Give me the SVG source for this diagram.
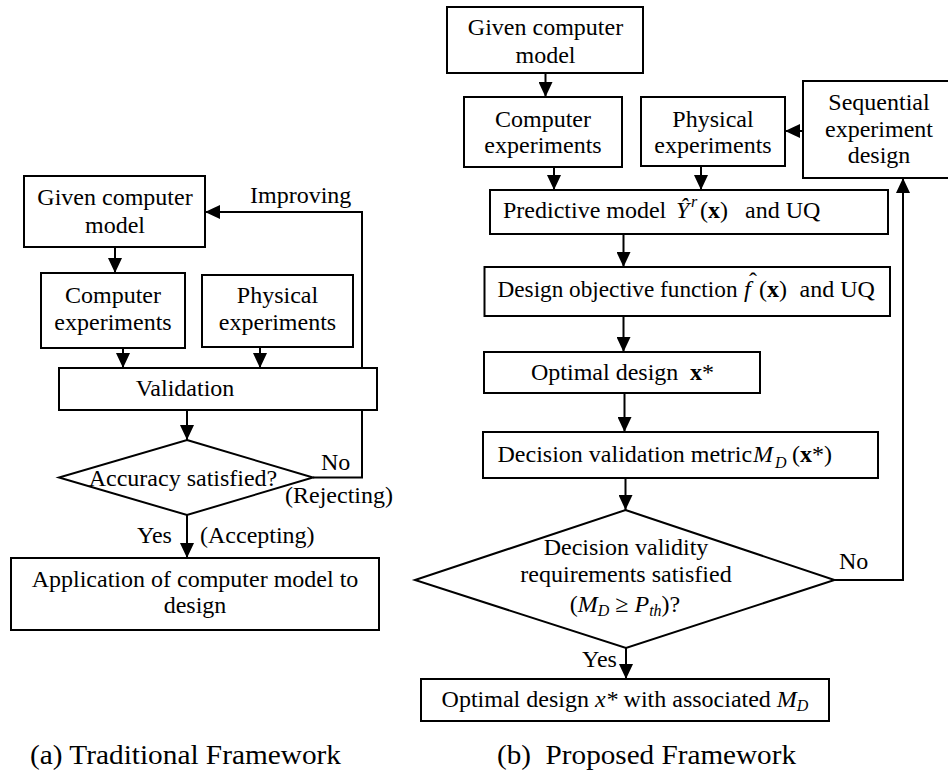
<svg xmlns="http://www.w3.org/2000/svg" width="948" height="773" viewBox="0 0 948 773">
<style>
text{font-family:"Liberation Serif","Times New Roman",serif;font-size:24px;fill:#000}
.c{text-anchor:middle}
.box{fill:#fff;stroke:#000;stroke-width:2}
.ln{fill:none;stroke:#000;stroke-width:2}
.i{font-style:italic}
.b{font-weight:bold}
.s{font-size:16px}
</style>
<defs>
<marker id="ah" markerUnits="userSpaceOnUse" markerWidth="15" markerHeight="14" refX="15" refY="7" orient="auto">
<path d="M0,0 L15,7 L0,14 z" fill="#000"/>
</marker>
</defs>
<rect width="948" height="773" fill="#fff"/>

<!-- connectors -->
<g id="connectors" class="ln">
<!-- left -->
<line x1="115" y1="247" x2="115" y2="273" marker-end="url(#ah)"/>
<line x1="123" y1="348" x2="123" y2="368" marker-end="url(#ah)"/>
<line x1="260" y1="347" x2="260" y2="368" marker-end="url(#ah)"/>
<line x1="187" y1="410" x2="187" y2="440" marker-end="url(#ah)"/>
<polyline points="313,477.5 362,477.5 362,212 205,212" marker-end="url(#ah)"/>
<line x1="187" y1="515" x2="187" y2="558" marker-end="url(#ah)"/>
<!-- right -->
<line x1="545.5" y1="73" x2="545.5" y2="97" marker-end="url(#ah)"/>
<line x1="803" y1="131" x2="785" y2="131" marker-end="url(#ah)"/>
<line x1="554" y1="167" x2="554" y2="190" marker-end="url(#ah)"/>
<line x1="701" y1="166" x2="701" y2="190" marker-end="url(#ah)"/>
<line x1="623.5" y1="234" x2="623.5" y2="267" marker-end="url(#ah)"/>
<line x1="623.5" y1="316" x2="623.5" y2="352" marker-end="url(#ah)"/>
<line x1="624.5" y1="393" x2="624.5" y2="432" marker-end="url(#ah)"/>
<line x1="625.5" y1="478" x2="625.5" y2="510" marker-end="url(#ah)"/>
<polyline points="834.5,580 903,580 903,178" marker-end="url(#ah)"/>
<line x1="626" y1="648" x2="626" y2="679" marker-end="url(#ah)"/>
</g>

<!-- left labels -->
<g id="labels-left">
<text x="250" y="203">Improving</text>
<text x="321" y="470">No</text>
<text x="285" y="503">(Rejecting)</text>
<text x="137" y="543">Yes</text>
<text x="200" y="543">(Accepting)</text>
</g>

<!-- left nodes -->
<g id="a-given">
<rect class="box" x="24" y="176" width="181" height="71"/>
<text class="c" x="115" y="205">Given computer</text>
<text class="c" x="115" y="233">model</text>
</g>
<g id="a-computer">
<rect class="box" x="41" y="273" width="144" height="75"/>
<text class="c" x="113" y="303">Computer</text>
<text class="c" x="113" y="330">experiments</text>
</g>
<g id="a-physical">
<rect class="box" x="202" y="275" width="151" height="72"/>
<text class="c" x="277.5" y="303">Physical</text>
<text class="c" x="277.5" y="330">experiments</text>
</g>
<g id="a-validation">
<rect class="box" x="59" y="368" width="318" height="42"/>
<text class="c" x="185" y="396">Validation</text>
</g>
<g id="a-accuracy">
<polygon class="box" points="187,440 313,477.5 187,515 59,477.5"/>
<text class="c" x="183" y="486">Accuracy satisfied?</text>
</g>
<g id="a-application">
<rect class="box" x="11" y="558" width="368" height="72"/>
<text class="c" x="195" y="587">Application of computer model to</text>
<text class="c" x="195" y="613">design</text>
</g>

<!-- right nodes -->
<g id="b-given">
<rect class="box" x="447" y="7" width="196" height="66"/>
<text class="c" x="545.5" y="35">Given computer</text>
<text class="c" x="545.5" y="63">model</text>
</g>
<g id="b-computer">
<rect class="box" x="464" y="97" width="158" height="70"/>
<text class="c" x="543" y="127">Computer</text>
<text class="c" x="543" y="153">experiments</text>
</g>
<g id="b-physical">
<rect class="box" x="641" y="97" width="144" height="69"/>
<text class="c" x="713" y="127">Physical</text>
<text class="c" x="713" y="153">experiments</text>
</g>
<g id="b-sequential">
<rect class="box" x="803" y="81" width="152" height="97"/>
<text class="c" x="879" y="110">Sequential</text>
<text class="c" x="879" y="137">experiment</text>
<text class="c" x="879" y="163">design</text>
</g>
<g id="b-predictive">
<rect class="box" x="490" y="190" width="398" height="44"/>
<text x="503" y="218">Predictive model</text>
<text class="i" x="676" y="218">Ŷ</text>
<text class="i s" x="691" y="207">r</text>
<text x="700" y="218">(<tspan class="b">x</tspan>)</text>
<text x="745" y="218">and UQ</text>
</g>
<g id="b-objective">
<rect class="box" x="484.5" y="267" width="405.5" height="49"/>
<text x="497.5" y="297" textLength="240" lengthAdjust="spacingAndGlyphs">Design objective function</text>
<text class="i" x="744" y="297">f</text>
<text class="c" x="753" y="289">ˆ</text>
<text x="759" y="297">(<tspan class="b">x</tspan>)</text>
<text x="799.5" y="297">and UQ</text>
</g>
<g id="b-optimal">
<rect class="box" x="484" y="352" width="276" height="41"/>
<text x="531" y="380">Optimal design</text>
<text x="690" y="380"><tspan class="b">x</tspan>*</text>
</g>
<g id="b-metric">
<rect class="box" x="483" y="432" width="395" height="46"/>
<text x="497.5" y="462">Decision validation metric<tspan class="i" x="753">M</tspan><tspan class="i s" x="775" dy="6">D</tspan><tspan x="792" dy="-6">(<tspan class="b">x</tspan>*)</tspan></text>
</g>
<g id="b-decision">
<polygon class="box" points="625.5,510 834.5,580 626,648 415,580"/>
<text class="c" x="626" y="555">Decision validity</text>
<text class="c" x="626" y="582">requirements satisfied</text>
<text class="c" x="625" y="612">(<tspan class="i">M</tspan><tspan class="i s" dy="4">D</tspan><tspan dy="-4"> ≥ </tspan><tspan class="i">P</tspan><tspan class="i s" dy="4">th</tspan><tspan dy="-4">)?</tspan></text>
</g>
<g id="b-labels">
<text x="839" y="569">No</text>
<text x="582" y="667">Yes</text>
</g>
<g id="b-final">
<rect class="box" x="421" y="679" width="408" height="42"/>
<text class="c" x="625" y="707">Optimal design <tspan class="i">x*</tspan> with associated <tspan class="i">M</tspan><tspan class="i s" dy="4">D</tspan></text>
</g>

<!-- captions -->
<g id="captions">
<text x="30" y="764" style="font-size:27px" textLength="311" lengthAdjust="spacingAndGlyphs">(a) Traditional Framework</text>
<text x="497" y="764" style="font-size:27px;white-space:pre" xml:space="preserve" textLength="299" lengthAdjust="spacingAndGlyphs">(b)  Proposed Framework</text>
</g>
</svg>
